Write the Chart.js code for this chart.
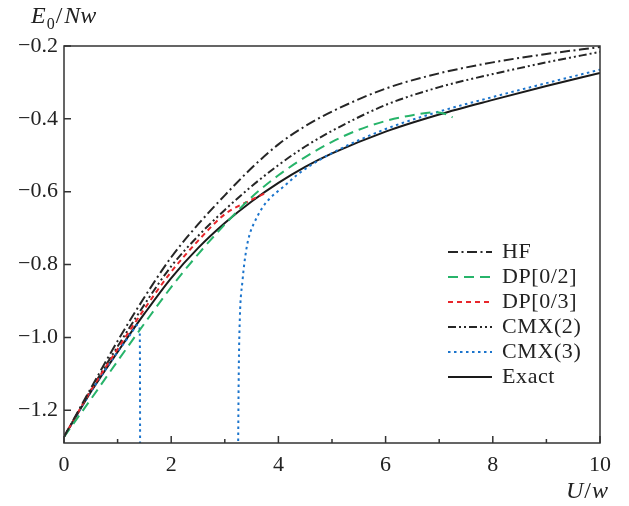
<!DOCTYPE html>
<html>
<head>
<meta charset="utf-8">
<script src="https://cdn.jsdelivr.net/npm/chart.js@4.4.0/dist/chart.umd.min.js"></script>
<style>html,body{margin:0;padding:0;background:#fff}</style>
</head>
<body>
<canvas id="myChart" width="629" height="506"></canvas>
<script>
// values (U/w on x, E0/Nw on y)
const uGrid = [0, 0.5, 1, 1.5, 2, 2.5, 3, 3.5, 4, 4.5, 5, 6, 7, 8, 9, 10];
const hfE    = [-1.273, -1.14, -1.01, -0.89, -0.78, -0.69, -0.61, -0.535, -0.47, -0.42, -0.38, -0.317, -0.275, -0.245, -0.222, -0.203];
const cmx2E  = [-1.273, -1.145, -1.025, -0.91, -0.805, -0.722, -0.65, -0.585, -0.527, -0.476, -0.433, -0.362, -0.313, -0.277, -0.245, -0.216];
const exactE = [-1.273, -1.15, -1.04, -0.935, -0.837, -0.755, -0.686, -0.627, -0.576, -0.532, -0.495, -0.435, -0.388, -0.348, -0.31, -0.274];

const dp02U = [0, 0.5, 1, 1.5, 2, 2.5, 3, 3.5, 4, 4.5, 5, 5.5, 6, 6.5, 6.9, 7.1, 7.25];
const dp02E = [-1.273, -1.17, -1.065, -0.962, -0.862, -0.772, -0.69, -0.615, -0.555, -0.505, -0.463, -0.43, -0.406, -0.39, -0.382, -0.386, -0.396];

const dp03U = [0, 0.5, 1, 1.5, 2, 2.5, 3, 3.5, 3.8];
const dp03E = [-1.273, -1.146, -1.032, -0.922, -0.82, -0.735, -0.662, -0.622, -0.601];

// CMX(3) has two branches with a pole between them
const cmx3LeftU  = [0, 0.5, 1, 1.25, 1.38, 1.41, 1.418, 1.42];
const cmx3LeftE  = [-1.273, -1.15, -1.04, -0.99, -0.965, -0.975, -1.1, -1.4];
const cmx3RightU = [3.244, 3.26, 3.28, 3.33, 3.4, 3.47, 3.55, 3.71, 3.85, 4.09, 4.34, 4.6, 5, 6, 7, 8, 9, 10];
const cmx3RightE = [-1.4, -1.1, -0.95, -0.845, -0.76, -0.714, -0.685, -0.642, -0.617, -0.587, -0.555, -0.528, -0.494, -0.428, -0.38, -0.34, -0.302, -0.265];

const xTicks = [0, 2, 4, 6, 8, 10];
const xMinor = [1, 3, 5, 7, 9];
const yTicks = [-1.2, -1.0, -0.8, -0.6, -0.4, -0.2];

const serif = '"Liberation Serif", "Times New Roman", serif';

function pts(us, es) {
  return us.map((u, i) => ({x: u, y: es[i]}));
}

const cmx3Data = pts(cmx3LeftU, cmx3LeftE).concat([{x: 2.3, y: null}], pts(cmx3RightU, cmx3RightE));

const decor = {
  id: 'decor',
  afterDatasetsDraw(chart) {
    const {ctx, chartArea: a, scales: {x, y}} = chart;
    ctx.save();
    ctx.strokeStyle = '#333';
    ctx.lineWidth = 1.5;
    ctx.setLineDash([]);
    ctx.strokeRect(a.left, a.top, a.right - a.left, a.bottom - a.top);
    ctx.beginPath();
    xTicks.forEach(v => {
      const px = x.getPixelForValue(v);
      ctx.moveTo(px, a.bottom); ctx.lineTo(px, a.bottom - 7);
    });
    xMinor.forEach(v => {
      const px = x.getPixelForValue(v);
      ctx.moveTo(px, a.bottom); ctx.lineTo(px, a.bottom - 4);
    });
    yTicks.forEach(v => {
      const py = y.getPixelForValue(v);
      ctx.moveTo(a.left, py); ctx.lineTo(a.left + 7, py);
    });
    ctx.stroke();

    // legend, inside the plot
    ctx.font = '22px ' + serif;
    ctx.letterSpacing = '0.6px';
    ctx.textBaseline = 'middle';
    ctx.fillStyle = '#222';
    chart.data.datasets.forEach((ds, i) => {
      const ly = 252 + i * 25;
      ctx.beginPath();
      ctx.strokeStyle = ds.borderColor;
      ctx.lineWidth = 2;
      ctx.setLineDash(ds.borderDash || []);
      ctx.moveTo(448, ly); ctx.lineTo(492, ly);
      ctx.stroke();
      ctx.fillText(ds.label, 502, ly);
    });
    ctx.letterSpacing = '0px';

    // axis titles
    ctx.setLineDash([]);
    ctx.textBaseline = 'alphabetic';
    let tx = 31;
    ctx.font = 'italic 24px ' + serif;
    ctx.fillText('E', tx, 23); tx += ctx.measureText('E').width + 1;
    ctx.font = '16px ' + serif;
    ctx.fillText('0', tx, 29); tx += ctx.measureText('0').width + 1;
    ctx.font = '24px ' + serif;
    ctx.fillText('/', tx, 23); tx += ctx.measureText('/').width + 2;
    ctx.font = 'italic 24px ' + serif;
    ctx.fillText('Nw', tx, 23);

    tx = 566;
    ctx.font = 'italic 24px ' + serif;
    ctx.fillText('U', tx, 498); tx += ctx.measureText('U').width + 1;
    ctx.font = '24px ' + serif;
    ctx.fillText('/', tx, 498); tx += ctx.measureText('/').width + 1;
    ctx.font = 'italic 24px ' + serif;
    ctx.fillText('w', tx, 498);
    ctx.restore();
  }
};

const ctx = document.getElementById('myChart');

new Chart(ctx, {
  type: 'line',
  data: {
    datasets: [
      {label: 'HF', data: pts(uGrid, hfE), borderColor: '#262626', borderDash: [10, 3.5, 2, 3.5]},
      {label: 'DP[0/2]', data: pts(dp02U, dp02E), borderColor: '#27b46a', borderDash: [10, 6]},
      {label: 'DP[0/3]', data: pts(dp03U, dp03E), borderColor: '#e8262b', borderDash: [5, 4]},
      {label: 'CMX(2)', data: pts(uGrid, cmx2E), borderColor: '#262626', borderDash: [8, 3, 2, 3, 2, 3]},
      {label: 'CMX(3)', data: cmx3Data, borderColor: '#1b74cc', borderDash: [2.5, 3.5]},
      {label: 'Exact', data: pts(uGrid, exactE), borderColor: '#1a1a1a', borderDash: []}
    ]
  },
  options: {
    responsive: false,
    animation: false,
    devicePixelRatio: 1,
    layout: {padding: {left: 0, right: 29, top: 46, bottom: 0}},
    elements: {
      point: {radius: 0},
      line: {borderWidth: 2, fill: false, cubicInterpolationMode: 'monotone'}
    },
    spanGaps: false,
    plugins: {legend: {display: false}, tooltip: {enabled: false}},
    scales: {
      x: {
        type: 'linear', min: 0, max: 10,
        grid: {display: false, drawTicks: false},
        border: {display: false},
        afterBuildTicks: s => { s.ticks = xTicks.map(v => ({value: v})); },
        afterFit: s => { s.height = 63; },
        ticks: {padding: 9, color: '#222', font: {family: serif, size: 22}, maxRotation: 0,
          callback: v => String(v)}
      },
      y: {
        type: 'linear', min: -1.29, max: -0.2,
        grid: {display: false, drawTicks: false},
        border: {display: false},
        afterBuildTicks: s => { s.ticks = yTicks.map(v => ({value: v})); },
        afterFit: s => { s.width = 64; },
        ticks: {padding: 6, color: '#222', font: {family: serif, size: 22},
          callback: v => (v < 0 ? '\u2212' : '') + Math.abs(v).toFixed(1)}
      }
    }
  },
  plugins: [decor]
});
</script>
</body>
</html>
